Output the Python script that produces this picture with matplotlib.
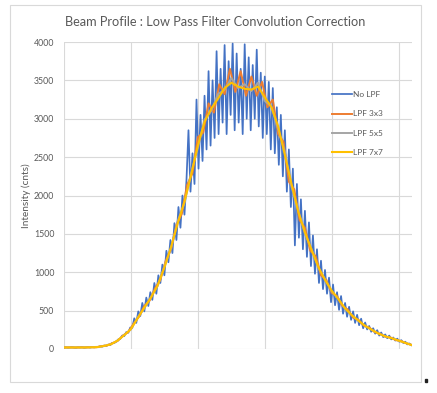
import numpy as np
import matplotlib.pyplot as plt
from matplotlib.patches import Rectangle

# Beam profile readings (pixel index -> intensity in counts), raw every 3 px
no_lpf = [18, 22, 17, 21, 24, 19, 16, 23, 20, 25, 17, 22, 26, 19, 27, 21, 29, 23, 34, 30,
          46, 38, 58, 50, 80, 78, 96, 125, 130, 175, 168, 220, 212, 280, 275, 400, 340, 490, 430, 600,
          490, 670, 560, 740, 640, 860, 720, 960, 860, 1100, 960, 1280, 1130, 1420, 1250, 1640, 1420, 1850, 1580, 2000,
          1750, 2200, 2850, 2050, 2550, 2150, 3250, 2350, 3050, 2450, 3300, 2600, 3620, 2650, 3500, 2750, 3880, 2800, 3650, 2950,
          3960, 2800, 3750, 3050, 3980, 2850, 3850, 2950, 3650, 2800, 3970, 3000, 3800, 2850, 3700, 3000, 3900, 2900, 3600, 2750,
          3550, 2800, 3480, 2600, 3400, 2550, 3150, 2400, 3050, 2250, 2850, 2050, 2600, 1850, 2350, 1350, 2150, 1450, 1950, 1300,
          1800, 1200, 1650, 1080, 1480, 980, 1300, 860, 1150, 780, 1030, 720, 930, 610, 840, 570, 740, 510, 690, 460,
          600, 420, 550, 380, 490, 340, 445, 310, 395, 270, 345, 255, 300, 225, 270, 200, 245, 175, 215, 155,
          190, 140, 175, 125, 150, 110, 135, 95, 115, 78, 95, 60, 72, 50]
x_raw = np.arange(len(no_lpf)) * 3

x_3x3 = np.arange(0, 521, 8)
lpf_3x3 = [20, 21, 19, 22, 20, 24, 22, 38, 45, 75, 105, 175, 220, 330, 420, 560, 630, 790, 900, 1150,
           1300, 1620, 1760, 2140, 2290, 2760, 2820, 3200, 3080, 3450, 3320, 3650, 3350, 3620, 3300, 3550, 3300, 3480, 3150, 3250,
           2800, 2700, 2180, 2080, 1680, 1580, 1280, 1210, 960, 900, 730, 690, 560, 515, 410, 380, 305, 280, 222, 200,
           160, 150, 115, 104, 72, 52]

x_5x5 = np.arange(0, 521, 10)
lpf_5x5 = [20, 20, 21, 20, 22, 27, 38, 62, 106, 185, 255, 410, 530, 680, 820, 1080, 1310, 1670, 1900, 2300,
           2620, 2990, 3100, 3320, 3380, 3530, 3400, 3450, 3360, 3470, 3230, 3160, 2860, 2570, 2110, 1810, 1500, 1300, 1060, 910,
           750, 655, 525, 445, 365, 305, 247, 203, 163, 142, 108, 82, 50]

x_7x7 = np.arange(0, 521, 10)
lpf_7x7 = [20, 20, 20, 20, 22, 25, 40, 60, 110, 180, 260, 400, 540, 670, 830, 1060, 1330, 1640, 1920, 2270,
           2650, 2960, 3130, 3260, 3400, 3470, 3420, 3390, 3380, 3420, 3280, 3150, 2900, 2530, 2150, 1790, 1520, 1290, 1070, 900,
           760, 650, 530, 440, 370, 300, 250, 200, 165, 140, 110, 80, 50]

plt.rcParams['font.family'] = ['Lato', 'DejaVu Sans']

fig = plt.figure(figsize=(4.37, 3.93), dpi=100)
ax = fig.add_axes([64 / 437, 44 / 393, 348 / 437, 307 / 393])

ax.plot(x_raw, no_lpf, color='#4472C4', lw=1.25, label='No LPF')
ax.plot(x_3x3, lpf_3x3, color='#ED7D31', lw=1.4, label='LPF 3x3')
ax.plot(x_5x5, lpf_5x5, color='#A5A5A5', lw=1.4, label='LPF 5x5')
ax.plot(x_7x7, lpf_7x7, color='#FFC000', lw=1.5, label='LPF 7x7')

ax.set_xlim(0, 520)
ax.set_ylim(0, 4000)
ax.set_xticks(np.arange(0, 520, 100))
ax.set_yticks(np.arange(0, 4001, 500))
ax.tick_params(axis='x', labelbottom=False, length=0)
ax.tick_params(axis='y', length=0, labelsize=6.3, labelcolor='#595959', pad=7)
ax.grid(True, color='#D9D9D9', lw=0.8)
ax.set_axisbelow(True)
for s in ax.spines.values():
    s.set_visible(False)

ax.set_ylabel('Intensity (cnts)', fontsize=7.2, color='#595959', labelpad=2)
fig.text(215 / 437, 1 - 22 / 393, 'Beam Profile : Low Pass Filter Convolution Correction',
         ha='center', va='center', fontsize=9.2, color='#595959')

ax.legend(loc='center left', bbox_to_anchor=(332 / 437, 1 - 123.5 / 393), bbox_transform=fig.transFigure,
          frameon=False, fontsize=6, handlelength=2.4, handletextpad=0.15, labelspacing=1.45,
          borderpad=0, borderaxespad=0, labelcolor='#595959')

# chart border and the little handle mark
fig.patches.append(Rectangle((10 / 437, 1 - 382 / 393), 411 / 437, 377 / 393, transform=fig.transFigure,
                             fill=False, edgecolor='#D9D9D9', lw=0.8))
fig.patches.append(Rectangle((425 / 437, 1 - 382 / 393), 2 / 437, 3 / 393, transform=fig.transFigure,
                             color='#222222'))

fig.savefig('out.png', dpi=100)
